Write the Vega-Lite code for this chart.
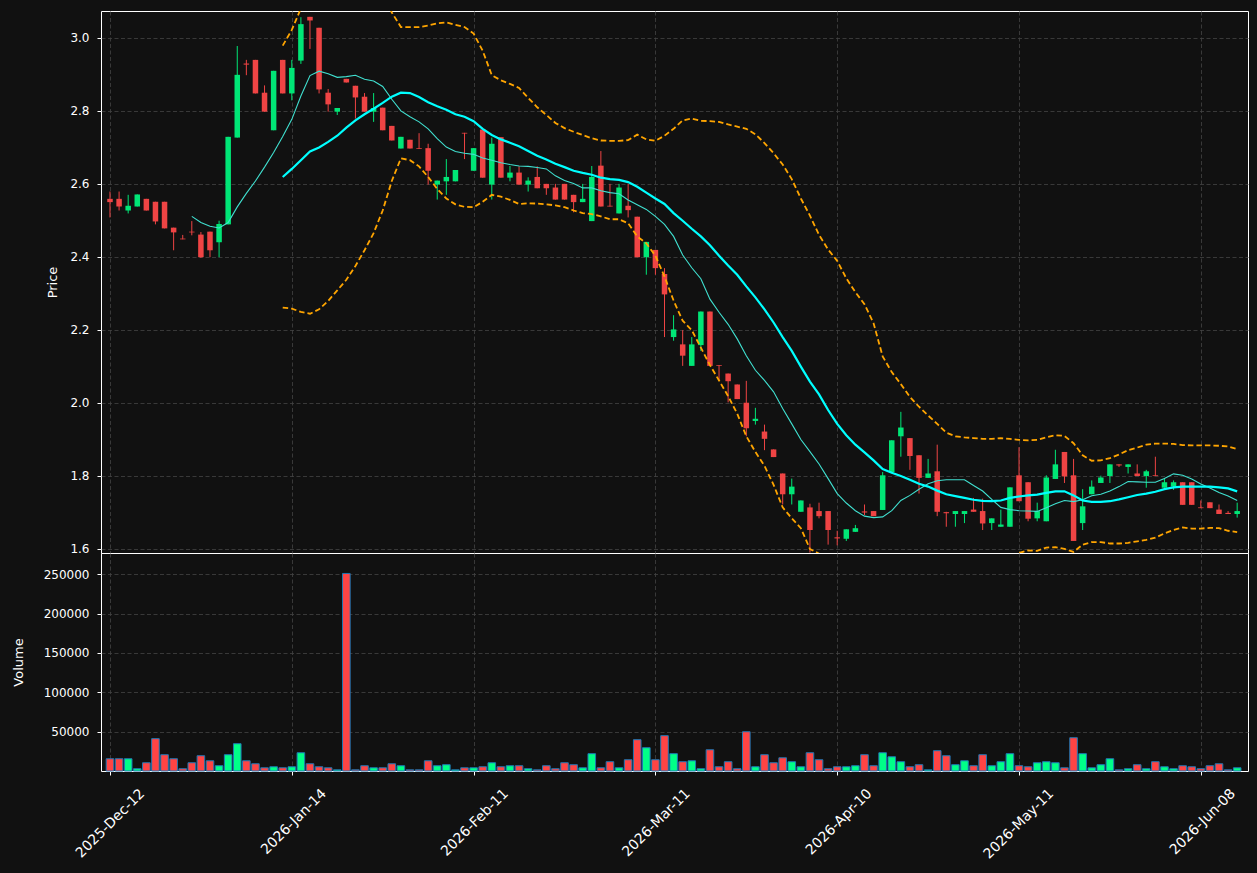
{
  "$schema": "https://vega.github.io/schema/vega-lite/v6.json",
  "background": "#111111",
  "padding": {"left": 11, "top": 10, "right": 9, "bottom": 14},
  "spacing": 0,
  "bounds": "flush",
  "data": {"values": [
{"i":0,"o":2.559,"h":2.579,"l":2.508,"c":2.550,"v":15600},
{"i":1,"o":2.559,"h":2.579,"l":2.527,"c":2.538,"v":15600},
{"i":2,"o":2.527,"h":2.570,"l":2.519,"c":2.540,"v":15600},
{"i":3,"o":2.538,"h":2.571,"l":2.538,"c":2.571,"v":2900},
{"i":4,"o":2.559,"h":2.559,"l":2.527,"c":2.527,"v":10500},
{"i":5,"o":2.551,"h":2.551,"l":2.489,"c":2.497,"v":41100},
{"i":6,"o":2.551,"h":2.551,"l":2.478,"c":2.478,"v":20700},
{"i":7,"o":2.480,"h":2.480,"l":2.418,"c":2.467,"v":15600},
{"i":8,"o":2.450,"h":2.460,"l":2.448,"c":2.448,"v":2900},
{"i":9,"o":2.469,"h":2.498,"l":2.459,"c":2.467,"v":10500,"s10":2.511},
{"i":10,"o":2.461,"h":2.468,"l":2.397,"c":2.399,"v":19400,"s10":2.494},
{"i":11,"o":2.469,"h":2.469,"l":2.399,"c":2.418,"v":13000,"s10":2.484},
{"i":12,"o":2.440,"h":2.499,"l":2.399,"c":2.490,"v":6700,"s10":2.479},
{"i":13,"o":2.489,"h":2.729,"l":2.489,"c":2.729,"v":20700,"s10":2.494},
{"i":14,"o":2.727,"h":2.978,"l":2.727,"c":2.899,"v":34700,"s10":2.537},
{"i":15,"o":2.930,"h":2.940,"l":2.898,"c":2.927,"v":13000,"s10":2.574},
{"i":16,"o":2.940,"h":2.940,"l":2.848,"c":2.848,"v":9200,"s10":2.608},
{"i":17,"o":2.850,"h":2.870,"l":2.798,"c":2.798,"v":4100,"s10":2.646},
{"i":18,"o":2.747,"h":2.910,"l":2.747,"c":2.910,"v":5400,"s10":2.686},
{"i":19,"o":2.940,"h":2.940,"l":2.848,"c":2.848,"v":4100,"s10":2.730,"s20":2.619,"bu":2.979,"bl":2.261},
{"i":20,"o":2.848,"h":2.940,"l":2.829,"c":2.918,"v":5400,"s10":2.777,"s20":2.641,"bu":3.022,"bl":2.258},
{"i":21,"o":2.938,"h":3.057,"l":2.929,"c":3.038,"v":23200,"s10":2.841,"s20":2.665,"bu":3.081,"bl":2.249},
{"i":22,"o":3.058,"h":3.058,"l":2.970,"c":3.048,"v":9200,"s10":2.897,"s20":2.689,"bu":3.134,"bl":2.244},
{"i":23,"o":3.028,"h":3.028,"l":2.848,"c":2.859,"v":5400,"s10":2.909,"s20":2.700,"bu":3.144,"bl":2.256},
{"i":24,"o":2.850,"h":2.860,"l":2.798,"c":2.818,"v":4100,"s10":2.902,"s20":2.715,"bu":3.151,"bl":2.279},
{"i":25,"o":2.798,"h":2.808,"l":2.789,"c":2.808,"v":1500,"s10":2.892,"s20":2.732,"bu":3.156,"bl":2.308},
{"i":26,"o":2.888,"h":2.888,"l":2.878,"c":2.878,"v":251000,"s10":2.894,"s20":2.754,"bu":3.171,"bl":2.337},
{"i":27,"o":2.869,"h":2.869,"l":2.779,"c":2.837,"v":1500,"s10":2.898,"s20":2.774,"bu":3.173,"bl":2.375},
{"i":28,"o":2.839,"h":2.849,"l":2.798,"c":2.798,"v":6700,"s10":2.887,"s20":2.791,"bu":3.164,"bl":2.418},
{"i":29,"o":2.798,"h":2.849,"l":2.770,"c":2.808,"v":4100,"s10":2.882,"s20":2.806,"bu":3.147,"bl":2.465},
{"i":30,"o":2.809,"h":2.809,"l":2.747,"c":2.747,"v":4100,"s10":2.867,"s20":2.822,"bu":3.117,"bl":2.527},
{"i":31,"o":2.759,"h":2.759,"l":2.719,"c":2.719,"v":9200,"s10":2.832,"s20":2.839,"bu":3.070,"bl":2.608},
{"i":32,"o":2.697,"h":2.729,"l":2.697,"c":2.729,"v":6700,"s10":2.800,"s20":2.850,"bu":3.030,"bl":2.670},
{"i":33,"o":2.721,"h":2.721,"l":2.697,"c":2.697,"v":1500,"s10":2.784,"s20":2.849,"bu":3.030,"bl":2.665},
{"i":34,"o":2.698,"h":2.739,"l":2.696,"c":2.696,"v":1500,"s10":2.770,"s20":2.838,"bu":3.030,"bl":2.648},
{"i":35,"o":2.698,"h":2.710,"l":2.598,"c":2.636,"v":13000,"s10":2.751,"s20":2.824,"bu":3.034,"bl":2.619},
{"i":36,"o":2.598,"h":2.609,"l":2.557,"c":2.609,"v":6700,"s10":2.724,"s20":2.813,"bu":3.040,"bl":2.586},
{"i":37,"o":2.607,"h":2.668,"l":2.570,"c":2.619,"v":8000,"s10":2.701,"s20":2.803,"bu":3.043,"bl":2.560},
{"i":38,"o":2.607,"h":2.638,"l":2.607,"c":2.638,"v":1500,"s10":2.689,"s20":2.791,"bu":3.036,"bl":2.544},
{"i":39,"o":2.740,"h":2.740,"l":2.668,"c":2.738,"v":4100,"s10":2.684,"s20":2.784,"bu":3.030,"bl":2.537},
{"i":40,"o":2.636,"h":2.698,"l":2.636,"c":2.698,"v":4100,"s10":2.681,"s20":2.772,"bu":3.012,"bl":2.536},
{"i":41,"o":2.749,"h":2.749,"l":2.617,"c":2.617,"v":5400,"s10":2.671,"s20":2.751,"bu":2.965,"bl":2.551},
{"i":42,"o":2.598,"h":2.727,"l":2.557,"c":2.710,"v":10500,"s10":2.665,"s20":2.734,"bu":2.898,"bl":2.570},
{"i":43,"o":2.728,"h":2.728,"l":2.617,"c":2.617,"v":5400,"s10":2.658,"s20":2.722,"bu":2.884,"bl":2.565},
{"i":44,"o":2.617,"h":2.649,"l":2.607,"c":2.631,"v":6700,"s10":2.653,"s20":2.713,"bu":2.874,"bl":2.556},
{"i":45,"o":2.631,"h":2.648,"l":2.598,"c":2.598,"v":6700,"s10":2.649,"s20":2.703,"bu":2.863,"bl":2.545},
{"i":46,"o":2.598,"h":2.618,"l":2.579,"c":2.609,"v":2900,"s10":2.648,"s20":2.690,"bu":2.836,"bl":2.547},
{"i":47,"o":2.619,"h":2.648,"l":2.588,"c":2.588,"v":1500,"s10":2.645,"s20":2.677,"bu":2.810,"bl":2.546},
{"i":48,"o":2.600,"h":2.600,"l":2.570,"c":2.588,"v":6700,"s10":2.641,"s20":2.667,"bu":2.789,"bl":2.544},
{"i":49,"o":2.590,"h":2.600,"l":2.557,"c":2.557,"v":2900,"s10":2.622,"s20":2.655,"bu":2.767,"bl":2.541},
{"i":50,"o":2.600,"h":2.600,"l":2.557,"c":2.557,"v":10500,"s10":2.609,"s20":2.646,"bu":2.753,"bl":2.536},
{"i":51,"o":2.570,"h":2.570,"l":2.522,"c":2.550,"v":8000,"s10":2.601,"s20":2.636,"bu":2.743,"bl":2.527},
{"i":52,"o":2.550,"h":2.600,"l":2.550,"c":2.559,"v":4100,"s10":2.589,"s20":2.630,"bu":2.734,"bl":2.520},
{"i":53,"o":2.498,"h":2.649,"l":2.498,"c":2.619,"v":22000,"s10":2.589,"s20":2.625,"bu":2.725,"bl":2.517},
{"i":54,"o":2.650,"h":2.690,"l":2.538,"c":2.538,"v":4100,"s10":2.581,"s20":2.617,"bu":2.719,"bl":2.511},
{"i":55,"o":2.540,"h":2.600,"l":2.538,"c":2.538,"v":11800,"s10":2.576,"s20":2.613,"bu":2.718,"bl":2.503},
{"i":56,"o":2.519,"h":2.600,"l":2.519,"c":2.590,"v":4100,"s10":2.573,"s20":2.611,"bu":2.718,"bl":2.503},
{"i":57,"o":2.540,"h":2.600,"l":2.508,"c":2.528,"v":14300,"s10":2.556,"s20":2.605,"bu":2.720,"bl":2.492},
{"i":58,"o":2.510,"h":2.510,"l":2.399,"c":2.399,"v":39800,"s10":2.543,"s20":2.592,"bu":2.735,"bl":2.456},
{"i":59,"o":2.399,"h":2.441,"l":2.351,"c":2.441,"v":29600,"s10":2.530,"s20":2.576,"bu":2.722,"bl":2.437},
{"i":60,"o":2.419,"h":2.419,"l":2.351,"c":2.369,"v":14300,"s10":2.511,"s20":2.560,"bu":2.718,"bl":2.403},
{"i":61,"o":2.353,"h":2.369,"l":2.180,"c":2.297,"v":44900,"s10":2.489,"s20":2.545,"bu":2.732,"bl":2.346},
{"i":62,"o":2.180,"h":2.240,"l":2.170,"c":2.201,"v":22000,"s10":2.456,"s20":2.520,"bu":2.751,"bl":2.280},
{"i":63,"o":2.160,"h":2.199,"l":2.101,"c":2.129,"v":11800,"s10":2.405,"s20":2.499,"bu":2.774,"bl":2.225},
{"i":64,"o":2.101,"h":2.180,"l":2.101,"c":2.160,"v":13000,"s10":2.370,"s20":2.477,"bu":2.779,"bl":2.199},
{"i":65,"o":2.158,"h":2.250,"l":2.142,"c":2.250,"v":2900,"s10":2.340,"s20":2.456,"bu":2.773,"bl":2.151},
{"i":66,"o":2.250,"h":2.250,"l":2.101,"c":2.101,"v":27000,"s10":2.284,"s20":2.432,"bu":2.772,"bl":2.103},
{"i":67,"o":2.103,"h":2.103,"l":2.060,"c":2.101,"v":5400,"s10":2.248,"s20":2.403,"bu":2.770,"bl":2.061},
{"i":68,"o":2.080,"h":2.080,"l":2.001,"c":2.059,"v":11800,"s10":2.215,"s20":2.376,"bu":2.763,"bl":2.018},
{"i":69,"o":2.050,"h":2.050,"l":2.010,"c":2.010,"v":2900,"s10":2.175,"s20":2.351,"bu":2.757,"bl":1.970},
{"i":70,"o":2.000,"h":2.060,"l":1.908,"c":1.930,"v":49900,"s10":2.129,"s20":2.319,"bu":2.751,"bl":1.908},
{"i":71,"o":1.950,"h":1.986,"l":1.940,"c":1.956,"v":5400,"s10":2.089,"s20":2.289,"bu":2.736,"bl":1.865},
{"i":72,"o":1.921,"h":1.940,"l":1.870,"c":1.901,"v":20700,"s10":2.061,"s20":2.256,"bu":2.712,"bl":1.827},
{"i":73,"o":1.872,"h":1.872,"l":1.851,"c":1.851,"v":10500,"s10":2.030,"s20":2.220,"bu":2.684,"bl":1.775},
{"i":74,"o":1.806,"h":1.806,"l":1.721,"c":1.749,"v":16800,"s10":1.984,"s20":2.180,"bu":2.653,"bl":1.713},
{"i":75,"o":1.749,"h":1.792,"l":1.721,"c":1.770,"v":11800,"s10":1.942,"s20":2.142,"bu":2.613,"bl":1.683},
{"i":76,"o":1.701,"h":1.732,"l":1.701,"c":1.732,"v":5400,"s10":1.899,"s20":2.099,"bu":2.560,"bl":1.656},
{"i":77,"o":1.713,"h":1.723,"l":1.589,"c":1.651,"v":23200,"s10":1.866,"s20":2.058,"bu":2.513,"bl":1.599},
{"i":78,"o":1.703,"h":1.726,"l":1.683,"c":1.689,"v":14300,"s10":1.832,"s20":2.023,"bu":2.460,"bl":1.586},
{"i":79,"o":1.703,"h":1.703,"l":1.611,"c":1.651,"v":2900,"s10":1.792,"s20":1.980,"bu":2.420,"bl":1.540},
{"i":80,"o":1.631,"h":1.649,"l":1.609,"c":1.628,"v":5400,"s10":1.751,"s20":1.942,"bu":2.389,"bl":1.495},
{"i":81,"o":1.627,"h":1.653,"l":1.621,"c":1.653,"v":5400,"s10":1.725,"s20":1.911,"bu":2.341,"bl":1.481},
{"i":82,"o":1.646,"h":1.665,"l":1.646,"c":1.656,"v":6700,"s10":1.704,"s20":1.885,"bu":2.303,"bl":1.467},
{"i":83,"o":1.702,"h":1.721,"l":1.692,"c":1.699,"v":20700,"s10":1.689,"s20":1.864,"bu":2.270,"bl":1.458},
{"i":84,"o":1.703,"h":1.703,"l":1.689,"c":1.689,"v":6700,"s10":1.685,"s20":1.842,"bu":2.218,"bl":1.466},
{"i":85,"o":1.706,"h":1.810,"l":1.706,"c":1.801,"v":23200,"s10":1.687,"s20":1.818,"bu":2.127,"bl":1.509},
{"i":86,"o":1.810,"h":1.897,"l":1.810,"c":1.897,"v":18100,"s10":1.704,"s20":1.808,"bu":2.084,"bl":1.532},
{"i":87,"o":1.908,"h":1.975,"l":1.852,"c":1.932,"v":11800,"s10":1.732,"s20":1.799,"bu":2.051,"bl":1.547},
{"i":88,"o":1.903,"h":1.903,"l":1.816,"c":1.854,"v":5400,"s10":1.746,"s20":1.789,"bu":2.016,"bl":1.562},
{"i":89,"o":1.856,"h":1.856,"l":1.751,"c":1.794,"v":8000,"s10":1.763,"s20":1.778,"bu":1.989,"bl":1.567},
{"i":90,"o":1.794,"h":1.846,"l":1.794,"c":1.806,"v":1500,"s10":1.778,"s20":1.770,"bu":1.965,"bl":1.575},
{"i":91,"o":1.812,"h":1.885,"l":1.689,"c":1.701,"v":25800,"s10":1.786,"s20":1.759,"bu":1.942,"bl":1.576},
{"i":92,"o":1.700,"h":1.701,"l":1.660,"c":1.697,"v":19400,"s10":1.789,"s20":1.749,"bu":1.918,"bl":1.580},
{"i":93,"o":1.695,"h":1.703,"l":1.660,"c":1.703,"v":8000,"s10":1.789,"s20":1.744,"bu":1.908,"bl":1.580},
{"i":94,"o":1.695,"h":1.703,"l":1.670,"c":1.703,"v":13000,"s10":1.789,"s20":1.739,"bu":1.905,"bl":1.573},
{"i":95,"o":1.707,"h":1.739,"l":1.701,"c":1.701,"v":6700,"s10":1.773,"s20":1.734,"bu":1.903,"bl":1.565},
{"i":96,"o":1.703,"h":1.737,"l":1.651,"c":1.669,"v":20700,"s10":1.758,"s20":1.731,"bu":1.901,"bl":1.561},
{"i":97,"o":1.670,"h":1.683,"l":1.651,"c":1.683,"v":6700,"s10":1.735,"s20":1.730,"bu":1.901,"bl":1.559},
{"i":98,"o":1.660,"h":1.707,"l":1.660,"c":1.666,"v":11800,"s10":1.713,"s20":1.732,"bu":1.903,"bl":1.561},
{"i":99,"o":1.660,"h":1.768,"l":1.660,"c":1.768,"v":22000,"s10":1.707,"s20":1.739,"bu":1.901,"bl":1.577},
{"i":100,"o":1.801,"h":1.878,"l":1.730,"c":1.730,"v":6700,"s10":1.704,"s20":1.743,"bu":1.898,"bl":1.588},
{"i":101,"o":1.782,"h":1.782,"l":1.675,"c":1.682,"v":5400,"s10":1.703,"s20":1.746,"bu":1.897,"bl":1.595},
{"i":102,"o":1.683,"h":1.726,"l":1.675,"c":1.703,"v":10500,"s10":1.702,"s20":1.748,"bu":1.898,"bl":1.594},
{"i":103,"o":1.675,"h":1.801,"l":1.675,"c":1.795,"v":11800,"s10":1.712,"s20":1.753,"bu":1.905,"bl":1.603},
{"i":104,"o":1.791,"h":1.871,"l":1.791,"c":1.831,"v":10500,"s10":1.723,"s20":1.757,"bu":1.911,"bl":1.604},
{"i":105,"o":1.865,"h":1.865,"l":1.780,"c":1.798,"v":4100,"s10":1.732,"s20":1.757,"bu":1.909,"bl":1.599},
{"i":106,"o":1.801,"h":1.846,"l":1.621,"c":1.621,"v":42300,"s10":1.729,"s20":1.746,"bu":1.889,"bl":1.591},
{"i":107,"o":1.670,"h":1.763,"l":1.651,"c":1.716,"v":22000,"s10":1.734,"s20":1.732,"bu":1.856,"bl":1.611},
{"i":108,"o":1.749,"h":1.787,"l":1.749,"c":1.770,"v":4100,"s10":1.745,"s20":1.728,"bu":1.841,"bl":1.618},
{"i":109,"o":1.780,"h":1.800,"l":1.780,"c":1.795,"v":8000,"s10":1.749,"s20":1.728,"bu":1.842,"bl":1.618},
{"i":110,"o":1.799,"h":1.831,"l":1.780,"c":1.831,"v":15600,"s10":1.758,"s20":1.730,"bu":1.848,"bl":1.614},
{"i":111,"o":1.831,"h":1.831,"l":1.824,"c":1.828,"v":1500,"s10":1.770,"s20":1.735,"bu":1.858,"bl":1.614},
{"i":112,"o":1.824,"h":1.831,"l":1.806,"c":1.831,"v":2900,"s10":1.784,"s20":1.741,"bu":1.870,"bl":1.616},
{"i":113,"o":1.806,"h":1.831,"l":1.799,"c":1.799,"v":8000,"s10":1.783,"s20":1.747,"bu":1.877,"bl":1.620},
{"i":114,"o":1.799,"h":1.816,"l":1.767,"c":1.812,"v":2900,"s10":1.782,"s20":1.751,"bu":1.885,"bl":1.624},
{"i":115,"o":1.801,"h":1.852,"l":1.799,"c":1.799,"v":11800,"s10":1.782,"s20":1.756,"bu":1.888,"bl":1.630},
{"i":116,"o":1.767,"h":1.793,"l":1.767,"c":1.782,"v":5400,"s10":1.792,"s20":1.763,"bu":1.888,"bl":1.642},
{"i":117,"o":1.770,"h":1.787,"l":1.761,"c":1.782,"v":2900,"s10":1.805,"s20":1.768,"bu":1.887,"bl":1.651},
{"i":118,"o":1.782,"h":1.782,"l":1.720,"c":1.720,"v":6700,"s10":1.801,"s20":1.770,"bu":1.884,"bl":1.658},
{"i":119,"o":1.782,"h":1.782,"l":1.720,"c":1.720,"v":5400,"s10":1.791,"s20":1.770,"bu":1.883,"bl":1.655},
{"i":120,"o":1.713,"h":1.732,"l":1.711,"c":1.711,"v":2900,"s10":1.777,"s20":1.770,"bu":1.883,"bl":1.655},
{"i":121,"o":1.727,"h":1.727,"l":1.711,"c":1.711,"v":6700,"s10":1.766,"s20":1.770,"bu":1.883,"bl":1.657},
{"i":122,"o":1.707,"h":1.721,"l":1.695,"c":1.695,"v":9200,"s10":1.754,"s20":1.768,"bu":1.882,"bl":1.656},
{"i":123,"o":1.698,"h":1.703,"l":1.695,"c":1.695,"v":1500,"s10":1.744,"s20":1.765,"bu":1.880,"bl":1.649},
{"i":124,"o":1.695,"h":1.726,"l":1.685,"c":1.703,"v":4100,"s10":1.732,"s20":1.757,"bu":1.873,"bl":1.645}
  ]},
  "vconcat": [
    {
      "width": 1147,
      "height": 542,
      "encoding": {
        "x": {"field": "i", "type": "quantitative",
          "scale": {"domain": [-0.44, 124.64], "nice": false, "zero": false},
          "axis": {"values": [0, 20, 40, 60, 80, 100, 120], "labels": false, "ticks": false, "title": null, "grid": true, "minExtent": 0, "maxExtent": 0, "labelPadding": 0}}
      },
      "layer": [
        {
          "mark": {"type": "rule", "strokeWidth": 1},
          "encoding": {
            "y": {"field": "l", "type": "quantitative",
              "scale": {"domain": [1.588, 3.074], "nice": false, "zero": false},
              "axis": {"title": "Price", "values": [1.6, 1.8, 2.0, 2.2, 2.4, 2.6, 2.8, 3.0], "format": ".1f", "minExtent": 33, "maxExtent": 33, "titlePadding": 9}},
            "y2": {"field": "h"},
            "color": {"condition": {"test": "datum.c >= datum.o", "value": "#00e676"}, "value": "#ef4444"}
          }
        },
        {
          "mark": {"type": "bar", "size": 5.5},
          "encoding": {
            "y": {"field": "o", "type": "quantitative"},
            "y2": {"field": "c"},
            "color": {"condition": {"test": "datum.c >= datum.o", "value": "#00e676"}, "value": "#ef4444"}
          }
        },
        {
          "transform": [{"filter": "isValid(datum.s10)"}],
          "mark": {"type": "line", "color": "#40e0d0", "strokeWidth": 1.1, "clip": true},
          "encoding": {"y": {"field": "s10", "type": "quantitative"}}
        },
        {
          "transform": [{"filter": "isValid(datum.s20)"}],
          "mark": {"type": "line", "color": "#00ffff", "strokeWidth": 2.2, "clip": true},
          "encoding": {"y": {"field": "s20", "type": "quantitative"}}
        },
        {
          "transform": [{"filter": "isValid(datum.bu)"}],
          "mark": {"type": "line", "color": "#ffa500", "strokeWidth": 1.8, "strokeDash": [5.5, 3], "clip": true},
          "encoding": {"y": {"field": "bu", "type": "quantitative"}}
        },
        {
          "transform": [{"filter": "isValid(datum.bl)"}],
          "mark": {"type": "line", "color": "#ffa500", "strokeWidth": 1.8, "strokeDash": [5.5, 3], "clip": true},
          "encoding": {"y": {"field": "bl", "type": "quantitative"}}
        }
      ]
    },
    {
      "width": 1147,
      "height": 218,
      "mark": {"type": "bar", "size": 7.6, "stroke": "#1f77b4", "strokeWidth": 1},
      "encoding": {
        "x": {"field": "i", "type": "quantitative",
          "scale": {"domain": [-0.44, 124.64], "nice": false, "zero": false},
          "axis": {"values": [0, 20, 40, 60, 80, 100, 120], "title": null, "grid": true,
            "labelExpr": "['2025-Dec-12','2026-Jan-14','2026-Feb-11','2026-Mar-11','2026-Apr-10','2026-May-11','2026-Jun-08'][round(datum.value/20)]",
            "labelFontSize": 14,
            "labelAngle": -45, "labelAlign": "right", "labelBaseline": "middle", "labelPadding": 16, "labelOffset": 32, "labelFlush": false, "labelOverlap": false, "labelBound": false}},
        "y": {"field": "v", "type": "quantitative",
          "scale": {"domain": [0, 277000], "nice": false},
          "axis": {"title": "Volume", "values": [50000, 100000, 150000, 200000, 250000], "format": "d", "minExtent": 56, "maxExtent": 56, "titlePadding": 20}},
        "color": {"condition": {"test": "datum.c >= datum.o", "value": "#00ff88"}, "value": "#ff4444"}
      }
    }
  ],
  "config": {
    "view": {"stroke": "#ffffff", "strokeWidth": 1},
    "axis": {
      "domain": false,
      "labelColor": "#ffffff", "titleColor": "#ffffff",
      "labelFont": "DejaVu Sans", "titleFont": "DejaVu Sans",
      "labelFontSize": 12, "titleFontSize": 13, "titleFontWeight": "normal",
      "gridColor": "#444444", "gridDash": [4, 2.5], "gridWidth": 0.8,
      "tickColor": "#ffffff", "tickSize": 4, "labelPadding": 8
    }
  }
}
